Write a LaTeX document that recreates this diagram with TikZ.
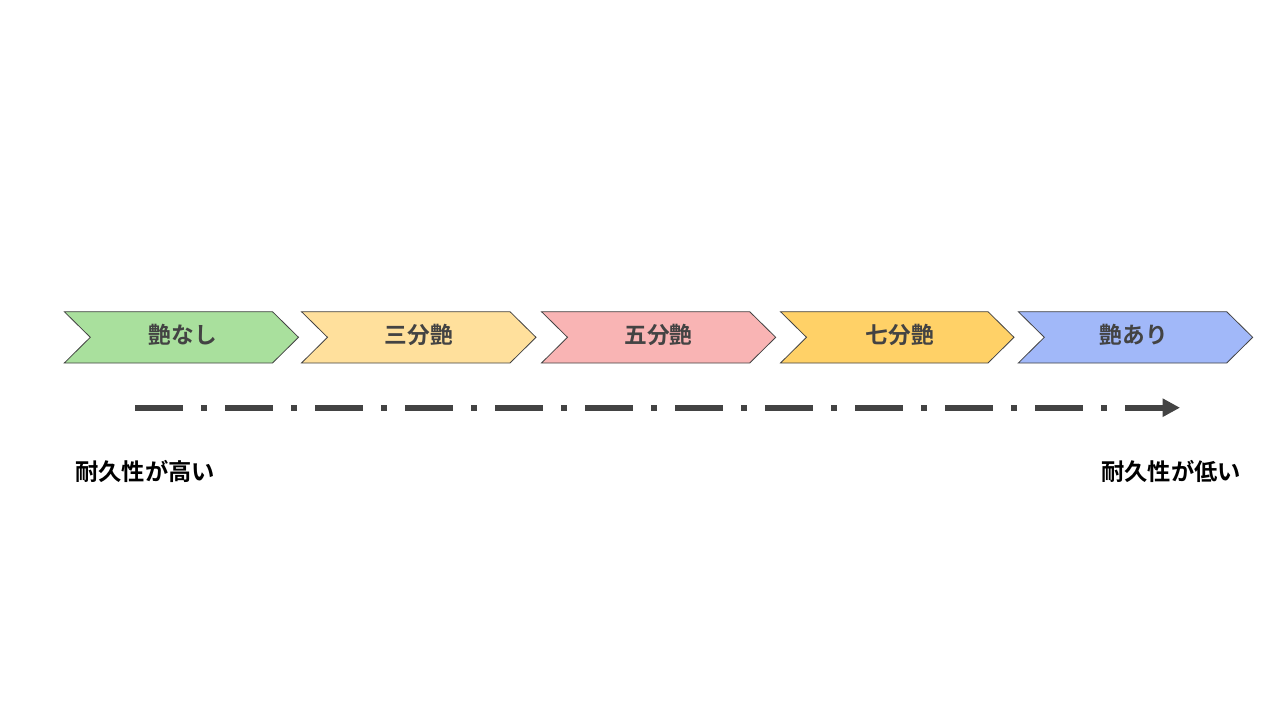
\documentclass[tikz,border=0pt]{standalone}
\usepackage{fontspec}
\newfontfamily\cjk{Noto Sans CJK JP Bold}
\usetikzlibrary{arrows.meta}
\definecolor{ink}{HTML}{434343}
\definecolor{cgreen}{HTML}{A9E09D}
\definecolor{cyellow}{HTML}{FFE09C}
\definecolor{cpink}{HTML}{F9B4B4}
\definecolor{corange}{HTML}{FFD167}
\definecolor{cblue}{HTML}{A1B8F9}
\tikzset{
  chev/.style={draw=ink, line width=0.8pt, line join=miter},
  chevtext/.style={text=ink, font=\cjk\fontsize{22.7}{26}\selectfont, inner sep=0pt},
  endtext/.style={text=black, font=\cjk\fontsize{23.3}{26}\selectfont, inner sep=0pt},
  scale line/.style={draw=ink, line width=6pt, line cap=butt, dash pattern=on 48pt off 18pt on 6pt off 18pt,
    -{Triangle[length=17.5pt,width=17.5pt]}}
}
\newcommand{\chevron}[3]{% left x, tip x, fill
  \filldraw[chev, fill=#3] (#1,-311.7) -- ({#2-26},-311.7) -- (#2,-337.3) -- ({#2-26},-363) -- (#1,-363) -- ({#1+26},-337.3) -- cycle;
}
\begin{document}
\begin{tikzpicture}[x=1pt,y=1pt]
\useasboundingbox (0,0) rectangle (1280,-720);
\fill[white] (0,0) rectangle (1280,-720);
\chevron{64.3}{298.5}{cgreen}
\chevron{301.5}{536}{cyellow}
\chevron{541.5}{775.7}{cpink}
\chevron{780.5}{1014}{corange}
\chevron{1018.3}{1252.7}{cblue}
\node[chevtext] (n1) at (183,-335) {艶なし};
\node[chevtext] (n2) at (418.8,-335) {三分艶};
\node[chevtext] (n3) at (658.6,-335) {五分艶};
\node[chevtext] (n4) at (900,-335) {七分艶};
\node[chevtext] (n5) at (1134,-335) {艶あり};
\coordinate (a0) at (135,-407.7);
\coordinate (a1) at (1180,-407.7);
\draw[scale line] (a0) -- (a1);
\node[endtext] (hi) at (145,-471.5) {耐久性が高い};
\node[endtext] (lo) at (1171,-471) {耐久性が低い};
\end{tikzpicture}
\end{document}
